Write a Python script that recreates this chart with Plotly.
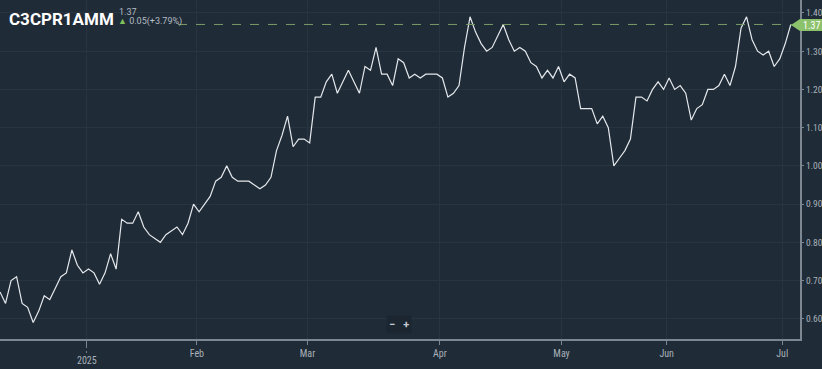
import plotly.graph_objects as go

# Series values (one per trading session, oldest first)
values = [
    0.67, 0.64, 0.70, 0.71, 0.64, 0.63, 0.59, 0.62, 0.66, 0.65,
    0.68, 0.71, 0.72, 0.78, 0.74, 0.72, 0.73, 0.72, 0.69, 0.72,
    0.77, 0.73, 0.86, 0.85, 0.85, 0.88, 0.84, 0.82, 0.81, 0.80,
    0.82, 0.83, 0.84, 0.82, 0.85, 0.90, 0.88, 0.90, 0.92, 0.96,
    0.97, 1.00, 0.97, 0.96, 0.96, 0.96, 0.95, 0.94, 0.95, 0.97,
    1.04, 1.08, 1.13, 1.05, 1.07, 1.07, 1.06, 1.18, 1.18, 1.22,
    1.24, 1.19, 1.22, 1.25, 1.22, 1.19, 1.26, 1.25, 1.31, 1.24,
    1.24, 1.21, 1.28, 1.27, 1.23, 1.24, 1.23, 1.24, 1.24, 1.24,
    1.23, 1.18, 1.19, 1.21, 1.31, 1.39, 1.35, 1.32, 1.30, 1.31,
    1.34, 1.37, 1.33, 1.30, 1.31, 1.30, 1.27, 1.26, 1.23, 1.25,
    1.23, 1.26, 1.22, 1.24, 1.23, 1.15, 1.15, 1.15, 1.11, 1.13,
    1.10, 1.00, 1.02, 1.04, 1.07, 1.18, 1.18, 1.17, 1.20, 1.22,
    1.20, 1.23, 1.20, 1.21, 1.19, 1.12, 1.15, 1.16, 1.20, 1.20,
    1.21, 1.24, 1.21, 1.26, 1.36, 1.39, 1.33, 1.30, 1.29, 1.30,
    1.26, 1.28, 1.32, 1.37,
]
idx = list(range(len(values)))

# Month boundaries (in session index units) and labels
tick_pos = [15.65, 35.6, 55.6, 79.55, 101.55, 120.55, 141.45]
tick_text = ["", "Feb", "Mar", "Apr", "May", "Jun", "Jul"]
year_label = "2025"
y_ticks = [0.60, 0.70, 0.80, 0.90, 1.00, 1.10, 1.20, 1.30, 1.40]

symbol = "C3CPR1AMM"
last_value = 1.37
change_text = "0.05(+3.79%)"

BG = "#1f2b37"
GRID = "#283541"
AXIS = "#7d8791"
LABEL = "#a9b1b9"
NARROW = "Liberation Sans Narrow, Roboto Condensed, Roboto, sans-serif"

fig = go.Figure()
fig.add_trace(go.Scatter(
    x=idx, y=values, mode="lines",
    line=dict(color="#e4e8ec", width=1.2),
    hoverinfo="skip", showlegend=False,
))

W, H = 822, 369
PW, PH = 800, 339

def px(x):
    return x / PW

def py(y):
    return 1 - y / PH

shapes = [
    # dashed last-value line
    dict(type="line", xref="paper", yref="y", x0=px(178), x1=px(792),
         y0=last_value, y1=last_value,
         line=dict(color="#7b9a68", width=1, dash="dash")),
    # last-value badge
    dict(type="path", xref="paper", yref="paper",
         path=(f"M {px(791)} {py(25)} L {px(800)} {py(19)} L {px(822)} {py(19)} "
               f"L {px(822)} {py(31)} L {px(800)} {py(31)} Z"),
         fillcolor="#8cc26c", line=dict(width=0)),
    # dotted year tick
    dict(type="line", xref="x", yref="paper", x0=tick_pos[0], x1=tick_pos[0],
         y0=py(339), y1=py(353), line=dict(color=AXIS, width=1, dash="dot")),
]

annotations = [
    dict(text=f"<b>{symbol}</b>", xref="paper", yref="paper", x=px(7), y=py(19),
         xanchor="left", yanchor="middle", showarrow=False,
         font=dict(family="Roboto", size=17, color="#ffffff")),
    dict(text=f"{last_value:.2f}", xref="paper", yref="paper", x=px(117), y=py(12),
         xanchor="left", yanchor="middle", showarrow=False,
         font=dict(family="Roboto", size=9, color="#b4bcc4")),
    dict(text="<span style='color:#7fc25a'>▲</span> " + change_text,
         xref="paper", yref="paper", x=px(116), y=py(21.5),
         xanchor="left", yanchor="middle", showarrow=False,
         font=dict(family="Roboto", size=9, color="#b4bcc4")),
    dict(text=f"{last_value:.2f}", xref="paper", yref="paper", x=px(811.5), y=py(25),
         xanchor="center", yanchor="middle", showarrow=False,
         font=dict(family=NARROW, size=10, color="#ffffff")),
    dict(text="<b>−</b>   <b>+</b>", xref="paper", yref="paper", x=px(399), y=py(324),
         xanchor="center", yanchor="middle", showarrow=False,
         bgcolor="#1b2631", borderpad=2,
         font=dict(family="Roboto", size=11, color="#c4cad0")),
    dict(text=year_label, xref="x", yref="paper", x=tick_pos[0], y=py(360.5),
         xanchor="center", yanchor="middle", showarrow=False,
         font=dict(family=NARROW, size=10, color=LABEL)),
]

fig.update_layout(
    width=W, height=H,
    margin=dict(l=0, r=W - PW, t=0, b=H - PH, autoexpand=False),
    paper_bgcolor=BG, plot_bgcolor=BG,
    shapes=shapes, annotations=annotations,
    showlegend=False,
    xaxis=dict(
        range=[0, PW / 5.53], tickmode="array", tickvals=tick_pos, ticktext=tick_text,
        showgrid=True, gridcolor=GRID, gridwidth=1, zeroline=False,
        showline=True, linecolor=AXIS, linewidth=1.5,
        ticks="outside", ticklen=4, tickcolor=AXIS,
        tickfont=dict(family=NARROW, size=10, color=LABEL),
        automargin=False, fixedrange=True,
    ),
    yaxis=dict(
        side="right", range=[0.547, 1.434], tickmode="array", tickvals=y_ticks,
        tickformat=".2f",
        showgrid=True, gridcolor=GRID, gridwidth=1, zeroline=False,
        showline=True, linecolor=AXIS, linewidth=2,
        ticks="outside", ticklen=2, tickcolor=AXIS,
        tickfont=dict(family=NARROW, size=9.5, color=LABEL),
        automargin=False, fixedrange=True,
    ),
)

fig.write_html(
    "out.html",
    config={"displayModeBar": False},
    post_script="document.body.style.margin='0';document.body.style.background='#1f2b37';",
)
